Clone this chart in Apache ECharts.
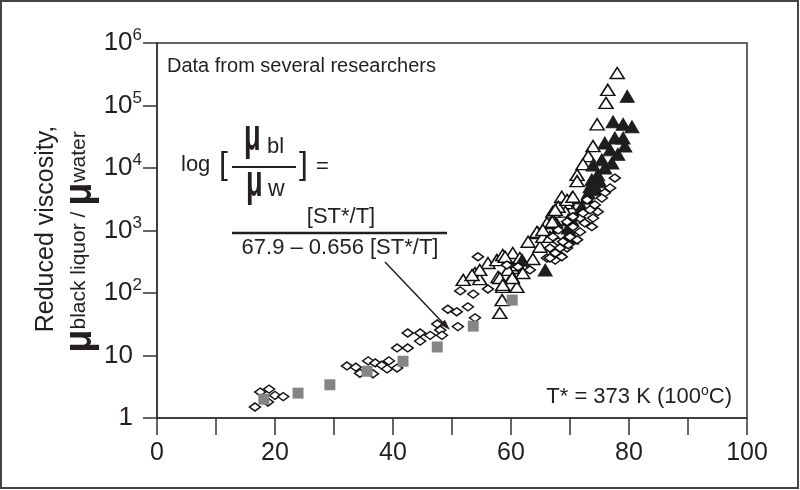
<!DOCTYPE html>
<html>
<head>
<meta charset="utf-8">
<script src="https://cdn.jsdelivr.net/npm/echarts@6/dist/echarts.min.js"></script>
<style>
  body { margin: 0; background: #fff; }
  #chart { width: 800px; height: 490px; }
</style>
</head>
<body>
<div id="chart"></div>
<script>
// x = solids content (%), y = reduced viscosity
const xTickLabels = ['0', '20', '40', '60', '80', '100'];
const yTickLabels = ['{n|1}', '{n|10}', '10{s|2}', '10{s|3}', '10{s|4}', '10{s|5}', '10{s|6}'];

const grayPts = [
  [18.1, 2.0], [23.9, 2.5], [29.3, 3.4], [35.6, 5.6], [41.7, 8.1], [47.5, 13.7], [53.6, 29.5], [60.2, 77]
];

const diamondPts = [
  [16.6, 1.5], [17.5, 2.6], [19.0, 2.9], [20.0, 2.3], [21.4, 2.2], [18.8, 1.8],
  [32.2, 6.8], [33.7, 6.5], [34.4, 5.2], [35.8, 8.2], [36.6, 5.1], [37.0, 7.6], [38.1, 7.0], [39.3, 8.2],
  [39.0, 6.1], [40.7, 6.3], [40.7, 13.2], [42.5, 13.2], [42.5, 22.9], [44.6, 22.9], [44.6, 17], [46.3, 21],
  [47.5, 32], [48.0, 25.6], [48.3, 21], [49.3, 55], [50.8, 50], [52.7, 60], [51.0, 29], [53.9, 40],
  [51.4, 108], [53.6, 96], [56.1, 116], [54.4, 380], [59.3, 280], [61.2, 263], [63.2, 234], [66.1, 363],
  [67.5, 336], [68.3, 405], [66.6, 525], [68.0, 660], [69.5, 525], [70.5, 760],
  [77.6, 6900], [76.8, 4800], [75.9, 4000], [75.4, 3300], [74.2, 2570], [74.7, 2000], [73.4, 2140],
  [73.7, 1150], [72.5, 1320], [71.7, 1580], [72.2, 1900], [71.7, 950], [70.5, 1150], [71.2, 710],
  [70.0, 790], [69.7, 590], [68.8, 660], [68.3, 525], [68.6, 380], [67.5, 436], [66.6, 363], [67.1, 790],
  [68.0, 1020], [69.5, 1380], [70.5, 1660], [72.9, 3090], [73.9, 1580]
];

const openTriPts = [
  [51.9, 162], [53.9, 209], [54.7, 167], [56.1, 302], [57.6, 336], [58.6, 405], [60.3, 436], [57.8, 180],
  [60.2, 251], [60.2, 180], [61.0, 125], [58.6, 125], [58.5, 77], [58.1, 48], [61.9, 280], [62.9, 660],
  [63.7, 350], [64.6, 910], [64.9, 550], [66.3, 1100], [67.5, 1380], [67.1, 790], [69.2, 2570], [70.3, 2140],
  [78.0, 331000], [76.4, 178000], [76.1, 110000], [74.6, 50000], [73.9, 22400], [73.1, 15500],
  [72.2, 11500], [71.2, 7760], [71.2, 6170], [70.3, 3300], [69.3, 2750], [69.2, 2000], [67.1, 2000],
  [67.1, 1480], [66.1, 1320], [64.4, 950], [65.4, 790], [54.7, 234], [53.4, 194], [59.0, 380], [61.0, 280],
  [62.0, 209], [59.5, 234], [60.2, 174], [58.1, 174], [58.6, 135], [61.5, 363], [68.6, 3470], [68.0, 2400],
  [69.5, 3090], [70.5, 3470], [67.5, 2140], [67.0, 1380], [66.6, 790], [65.4, 1020]
];

const filledTriPts = [
  [61.9, 336], [65.8, 234], [69.7, 1480], [69.7, 850],
  [79.7, 141000], [77.3, 55000], [79.0, 50000], [80.5, 45700], [75.9, 25100], [77.6, 30200], [79.0, 30200],
  [79.3, 22400], [76.8, 19500], [78.1, 16600], [75.4, 13500], [77.1, 12000], [75.9, 10000], [73.9, 11200],
  [74.7, 7760], [73.7, 6460], [75.1, 6000], [73.4, 5000], [74.6, 4470], [73.1, 3980], [72.9, 3300],
  [72.0, 2400], [71.2, 1780], [70.3, 1480], [69.7, 1100], [70.3, 760]
];

const ink = '#231f20';
const font = 'Liberation Sans, Arial, sans-serif';

function txt (x, y, text, size, extra) {
  return Object.assign({
    type: 'text', x: x, y: y, z: 100, silent: true,
    style: Object.assign({
      text: text, fill: ink, fontFamily: font, fontSize: size,
      align: 'left', verticalAlign: 'middle'
    }, (extra && extra.style) || {})
  }, extra && extra.el);
}

const chart = echarts.init(document.getElementById('chart'));
const option = {
  animation: false,
  grid: {
    left: 157, right: 53, top: 43, bottom: 72,
    show: true, borderColor: '#333', borderWidth: 1.5
  },
  xAxis: {
    type: 'value', min: 0, max: 100, interval: 10,
    axisLine: { lineStyle: { color: '#333', width: 1.5 } },
    axisTick: { length: 17, lineStyle: { color: '#333', width: 1.5 } },
    splitLine: { show: false },
    axisLabel: {
      margin: 23, fontSize: 25, color: ink, fontFamily: font,
      formatter: function (v) { return v % 20 === 0 ? xTickLabels[v / 20] : ''; }
    }
  },
  yAxis: {
    type: 'log', logBase: 10, min: 1, max: 1000000, splitNumber: 6,
    axisLine: { lineStyle: { color: '#333', width: 1.5 } },
    axisTick: { length: 14, lineStyle: { color: '#333', width: 1.5 } },
    splitLine: { show: false },
    axisLabel: {
      margin: 15, fontSize: 26, color: ink, fontFamily: font,
      formatter: function (v) { return yTickLabels[Math.round(Math.log10(v))]; },
      rich: {
        n: { fontSize: 26, color: ink, fontFamily: font, padding: [0, 9, 0, 0] },
        s: { fontSize: 17, color: ink, fontFamily: font, padding: [0, 0, 15, 0] }
      }
    }
  },
  series: [
    {
      type: 'scatter', data: openTriPts, symbol: 'triangle', symbolSize: [14, 11],
      itemStyle: { color: '#fff', borderColor: '#111', borderWidth: 1.5, opacity: 1 }
    },
    {
      type: 'scatter', data: filledTriPts, symbol: 'triangle', symbolSize: [14, 12],
      itemStyle: { color: '#1e1e1e', borderColor: '#1e1e1e', borderWidth: 1, opacity: 1 }
    },
    {
      type: 'scatter', data: diamondPts, symbol: 'diamond', symbolSize: [11, 8],
      itemStyle: { color: '#fff', borderColor: '#111', borderWidth: 1.5, opacity: 1 }
    },
    {
      type: 'scatter', data: grayPts, symbol: 'rect', symbolSize: 11,
      itemStyle: { color: '#858585', opacity: 1 }
    }
  ],
  graphic: [
    // frame round the whole picture
    { type: 'rect', z: 100, silent: true, shape: { x: 1, y: 1, width: 797, height: 487 },
      style: { fill: 'none', stroke: '#444', lineWidth: 2 } },
    // y axis title
    txt(46, 229, 'Reduced viscosity,', 25, { el: { rotation: Math.PI / 2 }, style: { align: 'center' } }),
    txt(81, 242, '{m|\u03bc}{s|black liquor}{t| / }{m|\u03bc}{s|water}', 21, {
      el: { rotation: Math.PI / 2 },
      style: {
        align: 'center',
        rich: {
          m: { fontSize: 38, fontWeight: 'bold', fill: ink, fontFamily: font },
          s: { fontSize: 21, fill: ink, fontFamily: font, padding: [0, 0, 4, 0] },
          t: { fontSize: 21, fill: ink, fontFamily: font, padding: [0, 0, 4, 0] }
        }
      }
    }),
    txt(167, 66, 'Data from several researchers', 20),
    // formula
    txt(181, 165, 'log', 22),
    txt(219, 165, '[', 32),
    txt(244, 138, '\u03bc', 44, { el: { scaleX: 0.62 }, style: { fontWeight: 'bold' } }),
    txt(267, 147, 'bl', 22),
    { type: 'line', z: 100, silent: true, shape: { x1: 232, y1: 167, x2: 296, y2: 167 },
      style: { stroke: ink, lineWidth: 2 } },
    txt(246, 184, '\u03bc', 44, { el: { scaleX: 0.62 }, style: { fontWeight: 'bold' } }),
    txt(268, 190, 'w', 23),
    txt(299, 165, ']', 32),
    txt(316, 167, '=', 22),
    txt(341, 217, '[ST*/T]', 22, { style: { align: 'center' } }),
    { type: 'line', z: 100, silent: true, shape: { x1: 232, y1: 233, x2: 447, y2: 233 },
      style: { stroke: ink, lineWidth: 2.5 } },
    txt(340, 248, '67.9 \u2013 0.656 [ST*/T]', 22, { style: { align: 'center' } }),
    // arrow to the fitted curve
    { type: 'line', z: 100, silent: true, shape: { x1: 385, y1: 262, x2: 444, y2: 324 },
      style: { stroke: ink, lineWidth: 1.5 } },
    { type: 'polygon', z: 100, silent: true,
      shape: { points: [[450, 330], [439.9, 324.5], [444.9, 319.7]] },
      style: { fill: ink } },
    txt(732, 397, '{a|T* = 373 K (100}{s|o}{a|C)}', 22, {
      style: {
        align: 'right',
        rich: {
          a: { fontSize: 22, fill: ink, fontFamily: font },
          s: { fontSize: 14, fill: ink, fontFamily: font, padding: [0, 0, 12, 0] }
        }
      }
    })
  ]
};
chart.setOption(option);
</script>
</body>
</html>
